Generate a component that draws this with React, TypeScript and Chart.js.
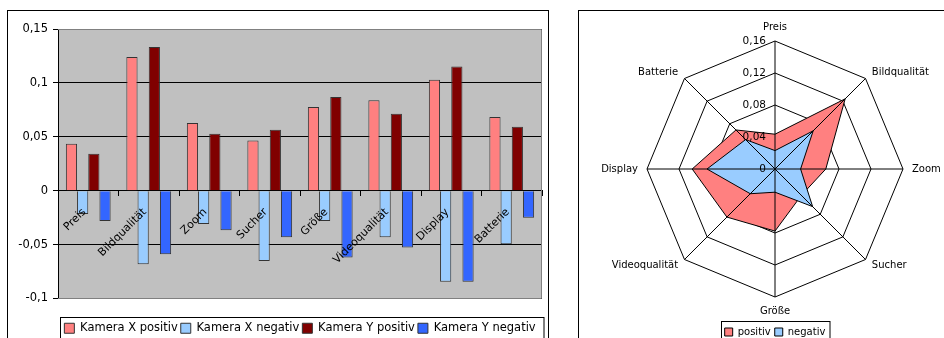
import React, { useEffect, useRef } from 'react';
import { Chart, registerables } from 'chart.js';

Chart.register(...registerables);

// ---------- data ----------
const categories = ['Preis', 'Bildqualität', 'Zoom', 'Sucher', 'Größe', 'Videoqualität', 'Display', 'Batterie'];

const kameraXPositiv = [0.0435, 0.124, 0.0627, 0.0466, 0.0776, 0.0838, 0.103, 0.0683];
const kameraXNegativ = [-0.0217, -0.0683, -0.031, -0.0652, -0.028, -0.0431, -0.0844, -0.0497];
const kameraYPositiv = [0.0342, 0.1334, 0.0528, 0.0565, 0.0869, 0.0714, 0.1151, 0.0593];
const kameraYNegativ = [-0.0282, -0.059, -0.0366, -0.0431, -0.062, -0.0528, -0.0844, -0.0251];

const radarPositiv = [0.0435, 0.124, 0.0635, 0.0466, 0.0776, 0.085, 0.1035, 0.069];
const radarNegativ = [0.023, 0.0675, 0.032, 0.0665, 0.029, 0.0437, 0.085, 0.052];

const barSeriesLabels = ['Kamera X positiv', 'Kamera X negativ', 'Kamera Y positiv', 'Kamera Y negativ'];
const radarSeriesLabels = ['positiv', 'negativ'];

const barAxisMin = -0.1;
const barAxisMax = 0.15;
const barAxisStep = 0.05;
const radarAxisMin = 0;
const radarAxisMax = 0.16;
const radarAxisStep = 0.04;

// ---------- helpers ----------
const FONT = "'DejaVu Sans', sans-serif";
const fmt = (v: number) => String(Math.round(v * 100) / 100).replace('.', ',');

Chart.defaults.font.family = FONT;
Chart.defaults.color = '#000';

const barDecor = {
  id: 'barDecor',
  beforeDraw(chart: any) {
    const { ctx, chartArea: a } = chart;
    ctx.save();
    ctx.fillStyle = '#C0C0C0';
    ctx.fillRect(a.left, a.top, a.right - a.left, a.bottom - a.top);
    ctx.restore();
  },
  beforeDatasetsDraw(chart: any) {
    const { ctx, chartArea: a } = chart;
    ctx.save();
    ctx.strokeStyle = '#808080';
    ctx.lineWidth = 1;
    ctx.beginPath();
    const t = Math.round(a.top) + 0.5;
    const b = Math.round(a.bottom) - 0.5;
    const r = Math.round(a.right) - 0.5;
    const l = Math.round(a.left);
    ctx.moveTo(l, t);
    ctx.lineTo(r, t);
    ctx.lineTo(r, b);
    ctx.lineTo(l, b);
    ctx.stroke();
    ctx.restore();
  },
  afterDraw(chart: any) {
    const boxes = chart.legend && chart.legend.legendHitBoxes;
    if (!boxes || !boxes.length) return;
    const { ctx } = chart;
    const minL = Math.min(...boxes.map((h: any) => h.left));
    const maxR = Math.max(...boxes.map((h: any) => h.left + h.width));
    const minT = Math.min(...boxes.map((h: any) => h.top));
    const maxB = Math.max(...boxes.map((h: any) => h.top + h.height));
    ctx.save();
    ctx.strokeStyle = '#000';
    ctx.lineWidth = 1;
    const x = Math.round(minL - 4) + 0.5;
    const y = Math.round(minT - 5.5) + 0.5;
    ctx.strokeRect(x, y, Math.round(maxR + 8) - x, Math.round(maxB + 5.5) - y);
    ctx.restore();
  },
};

const radarDecor = {
  id: 'radarDecor',
  afterDatasetsDraw(chart: any) {
    const s = chart.scales.r;
    const { ctx } = chart;
    ctx.save();
    ctx.strokeStyle = '#000';
    ctx.lineWidth = 1;
    const n = chart.data.labels.length;
    for (let i = 0; i < n; i++) {
      const p = s.getPointPosition(i, s.drawingArea);
      ctx.beginPath();
      ctx.moveTo(s.xCenter, s.yCenter);
      ctx.lineTo(p.x, p.y);
      ctx.stroke();
    }
    // radial tick labels
    ctx.fillStyle = '#000';
    ctx.font = `10.5px ${FONT}`;
    ctx.textAlign = 'right';
    ctx.textBaseline = 'middle';
    s.ticks.forEach((t: any) => {
      const d = s.getDistanceFromCenterForValue(t.value);
      ctx.fillText(fmt(t.value), s.xCenter - 9, s.yCenter - d);
    });
    // point labels
    ctx.font = `10px ${FONT}`;
    chart.data.labels.forEach((lab: string, i: number) => {
      const p = s.getPointPosition(i, s.drawingArea + 9);
      const deg = Math.round((s.getIndexAngle(i) * 180) / Math.PI) % 360;
      if (deg === 0) {
        ctx.textAlign = 'center';
        ctx.textBaseline = 'bottom';
      } else if (deg === 180) {
        ctx.textAlign = 'center';
        ctx.textBaseline = 'top';
      } else if (deg < 180) {
        ctx.textAlign = 'left';
        ctx.textBaseline = 'middle';
      } else {
        ctx.textAlign = 'right';
        ctx.textBaseline = 'middle';
      }
      ctx.fillText(lab, p.x, p.y);
    });
    ctx.restore();
  },
  afterDraw(chart: any) {
    const boxes = chart.legend && chart.legend.legendHitBoxes;
    if (!boxes || !boxes.length) return;
    const { ctx } = chart;
    const minL = Math.min(...boxes.map((h: any) => h.left));
    const maxR = Math.max(...boxes.map((h: any) => h.left + h.width));
    const minT = Math.min(...boxes.map((h: any) => h.top));
    const maxB = Math.max(...boxes.map((h: any) => h.top + h.height));
    ctx.save();
    ctx.strokeStyle = '#000';
    ctx.lineWidth = 1;
    const x = Math.round(minL - 4) + 0.5;
    const y = Math.round(minT - 6.5) + 0.5;
    ctx.strokeRect(x, y, Math.round(maxR + 5) - x, Math.round(maxB + 6.5) - y);
    ctx.restore();
  },
};

export default function App() {
  const barRef = useRef<HTMLCanvasElement | null>(null);
  const radarRef = useRef<HTMLCanvasElement | null>(null);

  useEffect(() => {
    const barColors = ['#FF8080', '#99CCFF', '#800000', '#3366FF'];
    const barData = [kameraXPositiv, kameraXNegativ, kameraYPositiv, kameraYNegativ];
    const bar = new Chart(barRef.current as HTMLCanvasElement, {
      type: 'bar',
      data: {
        labels: categories,
        datasets: barSeriesLabels.map((label, i) => ({
          label,
          data: barData[i],
          backgroundColor: barColors[i],
          borderColor: '#333333',
          borderWidth: 1,
          barPercentage: 1,
          categoryPercentage: 0.74,
        })),
      },
      options: {
        responsive: false,
        animation: false,
        events: [],
        layout: { padding: { left: 0, right: 6, top: 18, bottom: 2 } },
        scales: {
          x: {
            position: { y: 0 } as any,
            grid: { display: true, drawOnChartArea: false, drawTicks: true, tickLength: 5, color: '#000', offset: true },
            border: { display: true, color: '#000' },
            ticks: {
              z: 1,
              autoSkip: false,
              minRotation: 45,
              maxRotation: 45,
              padding: 10,
              labelOffset: -4,
              color: '#000',
              font: { size: 11, family: FONT },
            },
          },
          y: {
            min: barAxisMin,
            max: barAxisMax,
            ticks: {
              stepSize: barAxisStep,
              callback: (v: any) => fmt(Number(v)),
              color: '#000',
              padding: 5,
              font: { size: 11.5, family: FONT },
            },
            grid: { color: '#000', drawTicks: true, tickLength: 5 },
            border: { display: true, color: '#000' },
            afterFit: (s: any) => {
              s.width = 50;
            },
          },
        },
        plugins: {
          tooltip: { enabled: false },
          legend: {
            position: 'bottom',
            fullSize: false,
            title: { display: true, text: '', padding: { top: 9, bottom: 0 }, font: { size: 10 } },
            labels: {
              boxWidth: 10,
              boxHeight: 10,
              padding: 3,
              color: '#000',
              font: { size: 11.5, family: FONT },
            },
          },
        },
      },
      plugins: [barDecor],
    } as any);

    const radar = new Chart(radarRef.current as HTMLCanvasElement, {
      type: 'radar',
      data: {
        labels: categories,
        datasets: [
          {
            label: radarSeriesLabels[0],
            data: radarPositiv,
            backgroundColor: '#FF8080',
            borderColor: '#000',
            borderWidth: 1,
            pointRadius: 0,
            fill: true,
            order: 2,
          },
          {
            label: radarSeriesLabels[1],
            data: radarNegativ,
            backgroundColor: '#99CCFF',
            borderColor: '#000',
            borderWidth: 1,
            pointRadius: 0,
            fill: true,
            order: 1,
          },
        ],
      },
      options: {
        responsive: false,
        animation: false,
        events: [],
        layout: { padding: { left: 68, right: 46, top: 4, bottom: 4 } },
        scales: {
          r: {
            min: radarAxisMin,
            max: radarAxisMax,
            ticks: { stepSize: radarAxisStep, display: false },
            grid: { color: '#000', lineWidth: 1 },
            angleLines: { display: false },
            pointLabels: { display: false },
          },
        },
        plugins: {
          tooltip: { enabled: false },
          legend: {
            position: 'bottom',
            fullSize: false,
            labels: {
              boxWidth: 8,
              boxHeight: 8,
              padding: 4,
              color: '#000',
              font: { size: 10, family: FONT },
              sort: (a: any, b: any) => a.datasetIndex - b.datasetIndex,
            },
          },
        },
      },
      plugins: [radarDecor],
    } as any);

    return () => {
      bar.destroy();
      radar.destroy();
    };
  }, []);

  return (
    <div style={{ position: 'fixed', left: 0, top: 0, width: 944, height: 338, overflow: 'hidden', background: '#fff' }}>
      <div
        style={{
          position: 'absolute',
          left: 7,
          top: 10,
          width: 542,
          height: 345,
          border: '1px solid #000',
          boxSizing: 'border-box',
        }}
      >
        <canvas ref={barRef} width={540} height={335} style={{ display: 'block' }} />
      </div>
      <div
        style={{
          position: 'absolute',
          left: 578,
          top: 10,
          width: 380,
          height: 345,
          border: '1px solid #000',
          boxSizing: 'border-box',
        }}
      >
        <canvas ref={radarRef} width={370} height={340} style={{ display: 'block' }} />
      </div>
    </div>
  );
}
